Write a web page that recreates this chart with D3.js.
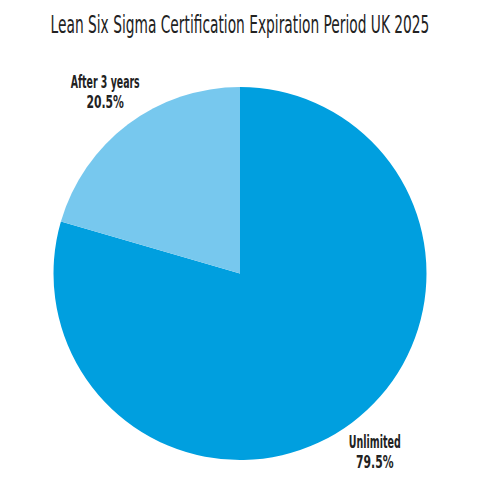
<!DOCTYPE html>
<html>
<head>
<meta charset="utf-8">
<script src="https://cdn.jsdelivr.net/npm/d3@7"></script>
<style>
  body { margin: 0; background: #fff; }
  text { font-family: "DejaVu Sans Condensed", "Liberation Sans Narrow", sans-serif; fill: #222; }
</style>
</head>
<body>
<script>
// chart data
const categories = ["Unlimited", "After 3 years"];
const shares = [79.5, 20.5];
const sliceColours = ["#009fdf", "#77c8ee"];

const width = 480, height = 480;
const cx = 240, cy = 273.5, radius = 186.5;

const svg = d3.select("body").append("svg")
    .attr("width", width)
    .attr("height", height);

// squeeze a text horizontally around its anchor so it takes the given width
function squeeze(sel, target) {
    const w = sel.node().getComputedTextLength();
    const k = Math.min(1, target / w);
    const x = +sel.attr("x") || 0, y = +sel.attr("y") || 0;
    sel.attr("transform", "translate(" + x + "," + y + ") scale(" + k + ",1)")
        .attr("x", 0).attr("y", 0);
}

// title
const title = svg.append("text")
    .attr("x", width / 2)
    .attr("y", 33)
    .attr("text-anchor", "middle")
    .style("font-size", "24px")
    .style("font-weight", "500")
    .text("Lean Six Sigma Certification Expiration Period UK 2025");
squeeze(title, 379);

const data = categories.map((c, i) => ({name: c, value: shares[i], colour: sliceColours[i]}));

const pie = d3.pie().sort(null).value(d => d.value);
const arc = d3.arc().innerRadius(0).outerRadius(radius);
const labelArc = d3.arc().innerRadius(radius + 38).outerRadius(radius + 38);

const g = svg.append("g")
    .attr("transform", "translate(" + cx + "," + cy + ")");

const arcs = pie(data);

g.selectAll("path")
    .data(arcs)
    .enter()
    .append("path")
    .attr("d", arc)
    .attr("fill", d => d.data.colour);

// labels, two lines each
const nameWidths = {"Unlimited": 52, "After 3 years": 69};
arcs.forEach(d => {
    const [lx, ly] = labelArc.centroid(d);
    const lg = g.append("g").attr("transform", "translate(" + lx + "," + ly + ")");
    const t1 = lg.append("text")
        .attr("x", 0).attr("y", -5.5)
        .attr("text-anchor", "middle")
        .style("font-size", "17.5px")
        .style("font-weight", "600")
        .text(d.data.name);
    squeeze(t1, nameWidths[d.data.name]);
    const t2 = lg.append("text")
        .attr("x", 0).attr("y", 14.5)
        .attr("text-anchor", "middle")
        .style("font-size", "17.5px")
        .style("font-weight", "600")
        .text(d.data.value.toFixed(1) + "%");
    squeeze(t2, 37.5);
});
</script>
</body>
</html>
